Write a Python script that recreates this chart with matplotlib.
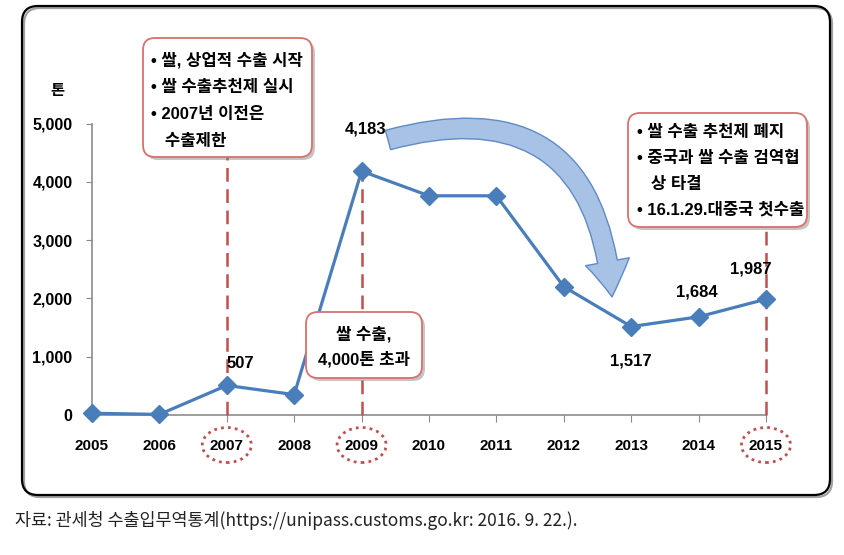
import numpy as np
import matplotlib.pyplot as plt
from matplotlib.patches import FancyBboxPatch, Ellipse, FancyArrowPatch
from matplotlib.colors import LinearSegmentedColormap

# 데이터 (톤)
years = ['2005', '2006', '2007', '2008', '2009', '2010',
         '2011', '2012', '2013', '2014', '2015']
export_ton = [30, 10, 507, 350, 4183, 3760, 3760, 2200, 1517, 1684, 1987]

# 값 표시할 연도
label_years = ['2007', '2009', '2013', '2014', '2015']
# 강조 연도 (점선 원 + 세로 점선)
mark_years = ['2007', '2009', '2015']

note_1 = ['• 쌀, 상업적 수출 시작', '• 쌀 수출추천제 실시', '• 2007년 이전은', '   수출제한']
note_2 = ['• 쌀 수출 추천제 폐지', '• 중국과 쌀 수출 검역협', '   상 타결', '• 16.1.29.대중국 첫수출']
note_3 = ['쌀 수출,', '4,000톤 초과']
source = '자료: 관세청 수출입무역통계(https://unipass.customs.go.kr: 2016. 9. 22.).'

# 스타일
line_c = '#4A7EBB'
red_c = '#C0504D'
axis_c = '#8C8C8C'
NUM_FONT = ['Liberation Sans', 'Noto Sans CJK KR']
KR_FONT = ['Noto Sans CJK KR', 'DejaVu Sans']
MIX_FONT = ['Liberation Sans', 'Noto Sans CJK KR']
label_offset = {'2007': (10, 16), '2009': (3, 30), '2013': (0, -25),
                '2014': (-1, 18), '2015': (-11, 22)}

W, H = 845, 555
fig = plt.figure(figsize=(W / 100, H / 100), dpi=100)
ax = fig.add_axes([92 / W, 140 / H, 674 / W, 291.5 / H])

x = np.arange(len(years))
ax.plot(x, export_ton, color=line_c, lw=2.3, marker='D', ms=9,
        zorder=4, clip_on=False)

# 세로 점선
for yr in mark_years:
    i = years.index(yr)
    top = export_ton[i] if yr == '2009' else 5000
    ax.plot([i, i], [0, top], color=red_c, lw=1.8,
            linestyle=(0, (5.5, 3)), zorder=3, clip_on=False)

# 값 레이블
for yr in label_years:
    i = years.index(yr)
    ax.annotate(f'{export_ton[i]:,}', (i, export_ton[i]),
                xytext=label_offset[yr], textcoords='offset points',
                ha='center', va='center', fontsize=12, fontweight='bold',
                family=NUM_FONT, zorder=5)

ax.set_xlim(0, 10)
ax.set_ylim(0, 5000)
ax.set_xticks(x)
ax.set_xticklabels(years, fontsize=11, fontweight='bold', family=NUM_FONT)
ax.set_yticks(range(0, 5001, 1000))
ax.set_yticklabels([f'{v:,}' for v in range(0, 5001, 1000)],
                   fontsize=11.5, fontweight='bold', family=NUM_FONT)
for s in ['top', 'right']:
    ax.spines[s].set_visible(False)
for s in ['left', 'bottom']:
    ax.spines[s].set_color(axis_c)
    ax.spines[s].set_linewidth(1.2)
ax.tick_params(axis='y', length=4, color=axis_c, pad=10)
ax.tick_params(axis='x', length=5, color=axis_c, pad=12)
ax.patch.set_alpha(0)

# 점선 원
for yr in mark_years:
    i = years.index(yr)
    ax.add_patch(Ellipse((i, -0.103), 49 / 67.4, 35 / 291.5,
                         transform=ax.get_xaxis_transform(), fill=False,
                         ec=red_c, lw=2, linestyle=(0, (1, 1.5)), clip_on=False))

# 위에 덮는 레이어 (픽셀 좌표)
ov = fig.add_axes([0, 0, 1, 1], zorder=5)
ov.patch.set_alpha(0)
ov.axis('off')

pink = LinearSegmentedColormap.from_list('pink', ['#FBE4E4', '#F2A6A5'])
grad = np.linspace(0, 1, 100).reshape(-1, 1)


def note_box(x0, y0, x1, y1):
    sh = FancyBboxPatch((x0 + 3, y0 + 3), x1 - x0, y1 - y0,
                        boxstyle='round,pad=0,rounding_size=12',
                        fc='#7F7F7F', ec='none', alpha=0.45)
    ov.add_patch(sh)
    bg = FancyBboxPatch((x0, y0), x1 - x0, y1 - y0,
                        boxstyle='round,pad=0,rounding_size=12',
                        fc='white', ec='none')
    ov.add_patch(bg)
    im = ov.imshow(grad, cmap=pink, extent=(x0, x1, y1, y0),
                   origin='upper', aspect='auto')
    im.set_clip_path(bg)
    ov.add_patch(FancyBboxPatch((x0, y0), x1 - x0, y1 - y0,
                                boxstyle='round,pad=0,rounding_size=12',
                                fc='none', ec='#D9706E', lw=1.3))


note_box(143, 38, 312, 157)
for k, t in enumerate(note_1):
    ov.text(151, 60 + k * 27.3, t, fontsize=12, fontweight='bold',
            family=MIX_FONT, va='center', ha='left')

note_box(628, 113, 807, 227)
for k, t in enumerate(note_2):
    ov.text(637, 132 + k * 26, t, fontsize=12, fontweight='bold',
            family=MIX_FONT, va='center', ha='left')

note_box(306, 312, 422, 378)
for k, t in enumerate(note_3):
    ov.text(364, 334 + k * 25, t, fontsize=12, fontweight='bold',
            family=MIX_FONT, va='center', ha='center')

# 곡선 화살표
arr = FancyArrowPatch((388, 140), (612, 297),
                      connectionstyle='arc3,rad=-0.6',
                      arrowstyle='simple,head_length=1.6,head_width=2.0,tail_width=0.9',
                      mutation_scale=16, fc='#A3BFE5', ec='#5A86C2', lw=1,
                      shrinkA=0, shrinkB=0, alpha=0.95)
ov.add_patch(arr)

# 외곽 테두리
ov.add_patch(FancyBboxPatch((24, 8), 808, 489,
                            boxstyle='round,pad=0,rounding_size=16',
                            fc='none', ec='#A0A0A0', lw=1.6))
ov.add_patch(FancyBboxPatch((22, 6), 808, 489,
                            boxstyle='round,pad=0,rounding_size=16',
                            fc='none', ec='black', lw=1.6))

ov.text(57, 90, '톤', fontsize=11, fontweight='bold', family=KR_FONT,
        ha='center', va='center')
ov.text(15, 521, source, fontsize=12.5, family=KR_FONT, color='#222222',
        ha='left', va='center')

ov.set_xlim(0, W)
ov.set_ylim(H, 0)

fig.savefig('out.png', dpi=100)
